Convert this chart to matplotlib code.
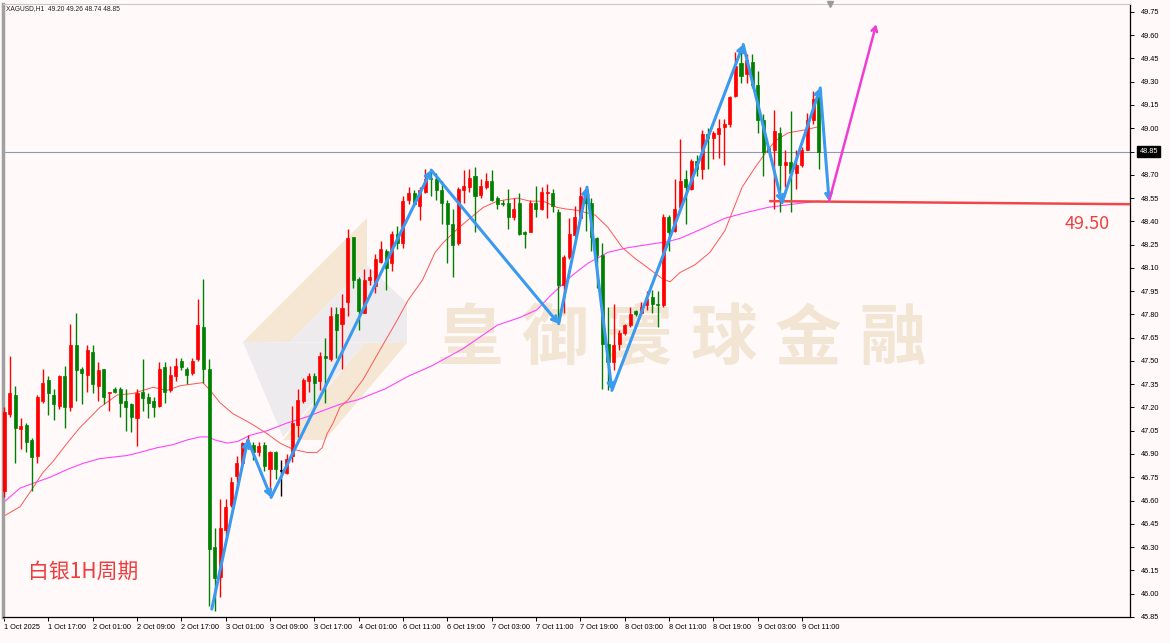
import numpy as np
import matplotlib
matplotlib.use("Agg")
import matplotlib.pyplot as plt
from matplotlib.patches import Polygon
from matplotlib.transforms import blended_transform_factory

# XAGUSD H1 candles (bar 0 = first bar on screen)
opens = [46.66, 47.16, 47.28, 47.06, 47.09, 46.99, 46.89, 47.24, 47.38, 47.28,
         47.21, 47.40, 47.20, 47.60, 47.45, 47.41, 47.56, 47.34, 47.45, 47.29,
         47.32, 47.32, 47.24, 47.22, 47.13, 47.30, 47.27, 47.24, 47.21, 47.46,
         47.31, 47.40, 47.50, 47.45, 47.42, 47.51, 47.72, 47.45, 46.30, 46.11,
         46.41, 46.57, 46.76, 46.84, 46.97, 46.96, 46.91, 46.96, 46.80, 46.91,
         46.79, 46.78, 46.89, 47.09, 47.24, 47.37, 47.40, 47.37, 47.53, 47.51,
         47.80, 47.74, 47.88, 48.30, 48.03, 47.81, 48.02, 47.98, 48.14, 48.21,
         48.13, 48.32, 48.26, 48.54, 48.58, 48.50, 48.59, 48.68, 48.67, 48.60,
         48.52, 48.38, 48.26, 48.60, 48.62, 48.69, 48.57, 48.62, 48.66, 48.55,
         48.52, 48.52, 48.43, 48.52, 48.33, 48.33, 48.52, 48.48, 48.58, 48.58,
         48.46, 47.99, 48.17, 48.31, 48.42, 48.56, 48.52, 48.29, 48.18, 47.61,
         47.49, 47.61, 47.68, 47.73, 47.82, 47.81, 47.86, 47.91, 47.87, 47.86,
         48.43, 48.34, 48.49, 48.67, 48.61, 48.79, 48.74, 48.96, 48.94, 48.96,
         49.01, 49.03, 49.21, 49.42, 49.35, 49.43, 49.28, 49.05, 48.87, 48.86,
         48.97, 48.76, 48.78, 48.71, 48.76, 48.86, 49.05, 49.20]
highs = [47.20, 47.53, 47.34, 47.13, 47.10, 47.00, 47.28, 47.45, 47.40, 47.32,
         47.41, 47.47, 47.74, 47.81, 47.46, 47.60, 47.60, 47.49, 47.45, 47.30,
         47.33, 47.33, 47.32, 47.23, 47.32, 47.51, 47.29, 47.27, 47.49, 47.49,
         47.47, 47.52, 47.52, 47.46, 47.52, 47.90, 48.03, 47.51, 46.42, 46.61,
         46.61, 46.75, 46.89, 46.98, 47.02, 46.98, 46.98, 46.98, 46.92, 46.92,
         46.86, 46.90, 47.21, 47.32, 47.39, 47.42, 47.42, 47.56, 47.65, 47.85,
         47.85, 47.93, 48.35, 48.30, 48.04, 48.09, 48.09, 48.19, 48.27, 48.22,
         48.34, 48.37, 48.56, 48.62, 48.60, 48.62, 48.74, 48.73, 48.71, 48.66,
         48.54, 48.48, 48.62, 48.73, 48.74, 48.75, 48.67, 48.71, 48.73, 48.56,
         48.54, 48.61, 48.55, 48.58, 48.34, 48.54, 48.63, 48.62, 48.64, 48.61,
         48.48, 48.18, 48.42, 48.50, 48.62, 48.62, 48.55, 48.30, 48.26, 47.85,
         47.87, 47.70, 47.74, 47.85, 47.83, 47.88, 47.95, 47.96, 47.95, 48.45,
         48.44, 48.67, 48.93, 48.73, 48.80, 48.83, 48.99, 49.00, 48.98, 49.06,
         49.06, 49.21, 49.49, 49.51, 49.48, 49.48, 49.37, 49.09, 48.88, 49.12,
         49.01, 48.86, 49.11, 48.86, 48.88, 49.10, 49.24, 49.26]
lows = [46.62, 47.14, 46.84, 46.93, 46.91, 46.66, 46.84, 47.23, 47.15, 47.12,
        47.19, 47.07, 47.18, 47.24, 47.22, 47.30, 47.29, 47.24, 47.22, 47.18,
        47.29, 47.14, 47.05, 47.04, 46.95, 47.18, 47.13, 47.14, 47.20, 47.23,
        47.30, 47.37, 47.44, 47.35, 47.41, 47.50, 47.36, 45.92, 45.89, 45.98,
        46.37, 46.56, 46.69, 46.83, 46.93, 46.86, 46.89, 46.79, 46.62, 46.74,
        46.63, 46.77, 46.85, 47.01, 47.23, 47.30, 47.21, 47.31, 47.23, 47.50,
        47.52, 47.45, 47.79, 47.97, 47.70, 47.81, 47.99, 47.94, 48.13, 47.96,
        48.08, 48.22, 48.23, 48.51, 48.50, 48.41, 48.58, 48.56, 48.54, 48.38,
        48.13, 48.04, 48.25, 48.52, 48.59, 48.33, 48.55, 48.61, 48.53, 48.48,
        48.50, 48.35, 48.41, 48.31, 48.23, 48.33, 48.43, 48.47, 48.42, 48.46,
        47.74, 47.81, 48.16, 48.30, 48.41, 48.34, 48.21, 47.97, 47.32, 47.31,
        47.44, 47.57, 47.67, 47.72, 47.79, 47.80, 47.83, 47.81, 47.72, 47.85,
        48.21, 48.33, 48.48, 48.38, 48.60, 48.69, 48.67, 48.74, 48.80, 48.81,
        48.76, 49.01, 49.20, 49.29, 49.29, 49.26, 48.97, 48.69, 48.84, 48.48,
        48.46, 48.62, 48.46, 48.61, 48.75, 48.86, 49.03, 48.74]
closes = [47.17, 47.29, 47.07, 47.08, 46.98, 46.88, 47.27, 47.36, 47.29, 47.22,
          47.40, 47.20, 47.60, 47.44, 47.42, 47.57, 47.35, 47.44, 47.27, 47.30,
          47.30, 47.23, 47.20, 47.14, 47.29, 47.26, 47.23, 47.20, 47.45, 47.30,
          47.41, 47.47, 47.46, 47.41, 47.50, 47.73, 47.45, 46.29, 46.10, 46.42,
          46.56, 46.72, 46.84, 46.97, 46.99, 46.91, 46.95, 46.82, 46.91, 46.80,
          46.79, 46.87, 47.10, 47.25, 47.38, 47.40, 47.36, 47.53, 47.52, 47.79,
          47.70, 47.84, 48.29, 48.02, 47.82, 48.02, 48.04, 48.16, 48.22, 48.10,
          48.32, 48.26, 48.53, 48.58, 48.51, 48.60, 48.67, 48.67, 48.60, 48.52,
          48.38, 48.25, 48.61, 48.63, 48.68, 48.56, 48.63, 48.66, 48.54, 48.51,
          48.51, 48.43, 48.48, 48.32, 48.32, 48.52, 48.48, 48.59, 48.59, 48.50,
          47.99, 48.17, 48.32, 48.43, 48.56, 48.52, 48.30, 48.18, 47.61, 47.49,
          47.60, 47.68, 47.73, 47.80, 47.80, 47.85, 47.90, 47.87, 47.86, 48.43,
          48.33, 48.48, 48.66, 48.62, 48.79, 48.74, 48.96, 48.94, 48.97, 49.00,
          49.03, 49.20, 49.40, 49.34, 49.44, 49.28, 49.05, 48.85, 48.85, 48.98,
          48.76, 48.78, 48.71, 48.76, 48.86, 49.05, 49.19, 48.85]

tick_labels = ["1 Oct 2025", "1 Oct 17:00", "2 Oct 01:00", "2 Oct 09:00",
               "2 Oct 17:00", "3 Oct 01:00", "3 Oct 09:00", "3 Oct 17:00",
               "4 Oct 01:00", "6 Oct 11:00", "6 Oct 19:00", "7 Oct 03:00",
               "7 Oct 11:00", "7 Oct 19:00", "8 Oct 03:00", "8 Oct 11:00",
               "8 Oct 19:00", "9 Oct 03:00", "9 Oct 11:00"]

# the two moving averages, sampled from the chart (bar, price)
ma_red_bar = [0, 2.9, 5.2, 7.0, 8.8, 11.4, 13.7, 17.3, 20.4, 23.3, 26.9, 29.4,
              31.8, 35.9, 37.2, 39.0, 41.3, 44.4, 47.5, 49.8, 52.2, 54.7, 56.5,
              57.4, 58.3, 59.4, 60.6, 62.1, 64.8, 68.8, 70.6, 72.9, 75.5, 77.8,
              79.2, 81.8, 84.1, 86.5, 89.0, 92.6, 94.9, 97.3, 99.8, 101.3, 103.6,
              106.7, 109.0, 111.6, 113.9, 116.2, 118.8, 120.2, 122.0, 124.7,
              127.4, 130.1, 133.2, 135.6, 137.4, 139.2, 141.5, 144.6, 147.0]
ma_red_val = [46.50, 46.56, 46.68, 46.78, 46.85, 46.97, 47.07, 47.20, 47.28,
              47.29, 47.33, 47.31, 47.34, 47.36, 47.31, 47.23, 47.16, 47.10,
              47.03, 46.97, 46.93, 46.91, 46.91, 46.94, 47.03, 47.10, 47.20,
              47.25, 47.38, 47.63, 47.74, 47.89, 48.02, 48.20, 48.26, 48.35,
              48.42, 48.49, 48.53, 48.55, 48.53, 48.53, 48.49, 48.48, 48.47,
              48.44, 48.36, 48.23, 48.16, 48.10, 48.03, 48.01, 48.07, 48.12,
              48.20, 48.34, 48.62, 48.75, 48.84, 48.92, 48.97, 48.99, 49.01]
ma_pink_bar = [0, 2.9, 5.2, 8.3, 11.4, 14.3, 17.3, 22.2, 24.5, 27.6, 30.5, 33.0,
               35.4, 36.8, 38.1, 40.3, 42.1, 44.4, 47.5, 51.1, 54.7, 57.6, 60.6,
               63.9, 68.8, 72.9, 77.3, 82.9, 89.0, 93.1, 96.2, 98.6, 100.4, 102.5,
               105.4, 109.0, 112.6, 116.2, 119.9, 122.0, 126.5, 130.1, 134.3,
               137.9, 142.2, 147.0]
ma_pink_val = [46.59, 46.68, 46.71, 46.75, 46.80, 46.84, 46.87, 46.89, 46.91,
               46.94, 46.96, 46.99, 47.01, 47.01, 46.99, 46.97, 46.98, 47.02,
               47.05, 47.10, 47.14, 47.18, 47.22, 47.25, 47.32, 47.40, 47.47,
               47.58, 47.73, 47.78, 47.83, 47.92, 47.98, 48.05, 48.13, 48.20,
               48.23, 48.25, 48.27, 48.29, 48.36, 48.42, 48.46, 48.49, 48.51,
               48.53]

# hand-drawn wave lines
zz_bar = [37.5, 44.0, 48.2, 77.1, 100.1, 105.2, 109.7, 133.4, 140.4, 147.3, 148.9]
zz_val = [45.90, 46.99, 46.62, 48.73, 47.74, 48.62, 47.31, 49.54, 48.52, 49.26, 48.53]
target_bar = [148.9, 157.4]
target_val = [48.53, 49.67]
support_bar = [138.3, 204.0]
support_val = [48.53, 48.51]
support_text = "49.50"

symbol_text = "XAGUSD,H1  49.20 49.26 48.74 48.85"
period_text = "白银1H周期"
brand = ["皇", "御", "寰", "球", "金", "融"]

W, H = 1170, 643
BG = "#fffaf9"
AXFONT = ["Liberation Sans", "DejaVu Sans"]


def px(x, y):
    return (x / W, 1 - y / H)


fig = plt.figure(figsize=(W / 100, H / 100), dpi=100, facecolor=BG)
ax = fig.add_axes([3 / W, 26 / H, 1127 / W, 613 / H], facecolor=BG)
ax.set_xlim(-0.18, 203.2)
ax.set_ylim(45.849, 49.801)

# watermark logo + brand name (pixel outlines)
tan = "#f5e7d4"
grey = "#eeebee"
logo = [
    ([(243, 342), (367, 218), (367, 265), (290, 342)], tan),
    ([(290, 342), (367, 265), (407, 303), (407, 343)], grey),
    ([(243, 342), (365, 343), (283, 437)], grey),
    ([(283, 440), (365, 343), (407, 343), (325, 440)], tan),
]
for pts, c in logo:
    ax.add_patch(Polygon([px(*p) for p in pts], closed=True, facecolor=c,
                         edgecolor="none", transform=fig.transFigure, zorder=0))
for i, ch in enumerate(brand):
    ax.text(*px(470 + 84.5 * i, 340), ch, transform=fig.transFigure,
            ha="center", va="center", fontsize=48, color="#f2e5d4",
            family=["Noto Sans CJK SC", "Noto Sans CJK TC"], fontweight="bold",
            zorder=0)

# moving averages
ax.plot(ma_pink_bar, ma_pink_val, color="#ff44ff", lw=0.8, zorder=2)
ax.plot(ma_red_bar, ma_red_val, color="#ff5555", lw=0.7, zorder=2)

# candles: red = up, green = down
o = np.array(opens)
h = np.array(highs)
l = np.array(lows)
c = np.array(closes)
x = np.arange(len(o))
col = np.where(c > o, "#ff0000", np.where(c < o, "#008000", "#000000"))
ax.vlines(x, l, h, colors=col, lw=1, zorder=3)
ax.bar(x, np.maximum(np.abs(c - o), 0.004), bottom=np.minimum(o, c), width=0.55,
       color=col, edgecolor=col, lw=0.5, zorder=3)

# last price line
ax.axhline(closes[-1], color="#8c9bb0", lw=0.8, zorder=1)

# wave drawing
for i in range(len(zz_bar) - 1):
    ax.annotate("", xy=(zz_bar[i + 1], zz_val[i + 1]), xytext=(zz_bar[i], zz_val[i]),
                arrowprops=dict(arrowstyle="->,head_length=0.35,head_width=0.2",
                                color="#3a9af0", lw=2.2, shrinkA=0, shrinkB=0),
                zorder=5)
ax.annotate("", xy=(target_bar[1], target_val[1]), xytext=(target_bar[0], target_val[0]),
            arrowprops=dict(arrowstyle="->,head_length=0.35,head_width=0.2",
                            color="#f03cd2", lw=1.8, shrinkA=0, shrinkB=0), zorder=5)
ax.plot(support_bar, support_val, color="#f0464b", lw=1.8, zorder=4)

ax.text(*px(1087, 224), support_text, transform=fig.transFigure, ha="center",
        va="center", fontsize=13, color="#ee4040",
        family=["Noto Sans CJK SC", "DejaVu Sans"])
ax.text(*px(28, 572), period_text, transform=fig.transFigure, ha="left",
        va="center", fontsize=15, color="#ee3c3c",
        family=["Noto Sans CJK SC", "DejaVu Sans"])
fig.text(*px(6, 9), symbol_text, ha="left", va="center", fontsize=4.8,
         color="#202020", family=AXFONT)

# axes
ax.yaxis.tick_right()
yt = np.round(45.85 + 0.15 * np.arange(27), 2)
ax.set_yticks(yt)
ax.set_yticklabels(["%.2f" % v for v in yt], family=AXFONT)
ax.set_xticks(np.arange(len(tick_labels)) * 8)
ax.set_xticklabels(tick_labels, family=AXFONT)
for lbl in ax.get_xticklabels():
    lbl.set_ha("left")
ax.tick_params(axis="both", labelsize=5.3, length=3, width=0.7, colors="#000000",
               pad=2)
ax.tick_params(axis="y", pad=5)
for s in ["right", "bottom"]:
    ax.spines[s].set_color("#000000")
    ax.spines[s].set_linewidth(0.9)
ax.spines["left"].set_color("#a0a0a0")
ax.spines["left"].set_linewidth(2.5)
ax.spines["top"].set_color("#c8c8c8")
ax.spines["top"].set_linewidth(0.8)

# price tag for the last close
tr = blended_transform_factory(ax.transAxes, ax.transData)
ax.text(1.0085, closes[-1], "%.2f" % closes[-1], transform=tr, ha="left",
        va="center", fontsize=5.3, color="white", clip_on=False, family=AXFONT,
        bbox=dict(boxstyle="square,pad=0.3", fc="black", ec="black"))
# chart shift marker
ax.plot([149.1], [1.0], marker="v", ms=4, color="#9a9a9a",
        transform=blended_transform_factory(ax.transData, ax.transAxes),
        clip_on=False, zorder=6)

fig.savefig("out.png", dpi=100, facecolor=BG)
